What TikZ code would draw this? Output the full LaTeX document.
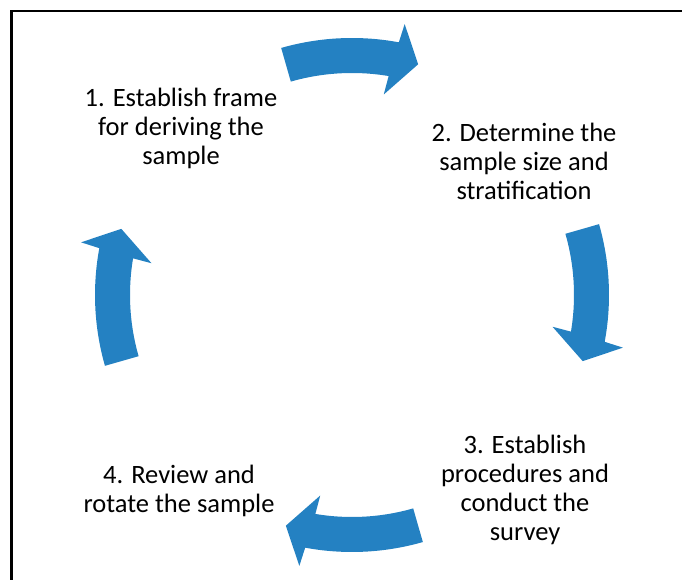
\documentclass[tikz,border=0pt]{standalone}
\usepackage{fontspec}
\setmainfont{Carlito}
\definecolor{cycleblue}{RGB}{36,129,194}
\tikzset{
  steptext/.style={align=center, font=\fontsize{26.5}{29}\selectfont},
  cyclearrow/.style={fill=cycleblue}
}
\begin{document}
\begin{tikzpicture}[x=1pt,y=1pt]
  \useasboundingbox (0,0) rectangle (682,580);
  \draw[line width=2.5pt] (682,569) -- (11.5,569) -- (11.5,0);

  \coordinate (o) at (352,285);

  \node[steptext] (s1) at (181,452) {1. Establish frame\\for deriving the\\sample};
  \node[steptext] (s2) at (524,419) {2. Determine the\\sample size and\\stratification};
  \node[steptext] (s3) at (525,90) {3. Establish\\procedures and\\conduct the\\survey};
  \node[steptext] (s4) at (179,89) {4. Review and\\rotate the sample};

  % curved block arrows, one between each pair of steps
  \foreach \c in {90,0,-90,180} {
    \fill[cyclearrow] ([shift={({\c+16}:257)}]o)
      arc[start angle=\c+16, end angle=\c-10.5, radius=257pt]
      -- ([shift={({\c-11}:276)}]o) -- ([shift={({\c-16}:240)}]o)
      -- ([shift={({\c-9}:203)}]o) -- ([shift={({\c-9.5}:222)}]o)
      arc[start angle=\c-9.5, end angle=\c+16, radius=222pt] -- cycle;
  }
\end{tikzpicture}
\end{document}
